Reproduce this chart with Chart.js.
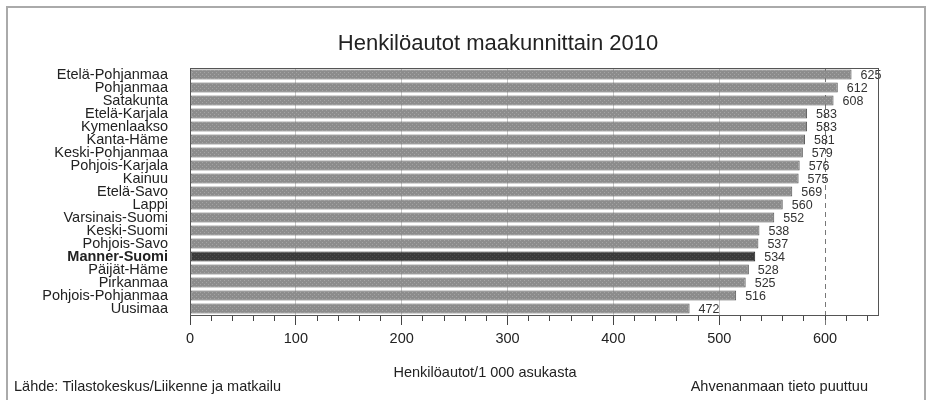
<!DOCTYPE html>
<html>
<head>
<meta charset="utf-8">
<script src="https://cdn.jsdelivr.net/npm/chart.js@4/dist/chart.umd.min.js"></script>
<style>
  html, body { margin: 0; padding: 0; background: #fff; }
  #wrap { width: 929px; height: 400px; }
</style>
</head>
<body>
<div id="wrap"><canvas id="myChart" width="929" height="400"></canvas></div>
<script>
// data
const regions = ['Etelä-Pohjanmaa', 'Pohjanmaa', 'Satakunta', 'Etelä-Karjala', 'Kymenlaakso',
  'Kanta-Häme', 'Keski-Pohjanmaa', 'Pohjois-Karjala', 'Kainuu', 'Etelä-Savo', 'Lappi',
  'Varsinais-Suomi', 'Keski-Suomi', 'Pohjois-Savo', 'Manner-Suomi', 'Päijät-Häme',
  'Pirkanmaa', 'Pohjois-Pohjanmaa', 'Uusimaa'];
const carsPer1000 = [625, 612, 608, 583, 583, 581, 579, 576, 575, 569, 560, 552, 538, 537, 534, 528, 525, 516, 472];
const highlight = 'Manner-Suomi';
const chartTitle = 'Henkilöautot maakunnittain 2010';
const axisTitle = 'Henkilöautot/1 000 asukasta';
const sourceText = 'Lähde: Tilastokeskus/Liikenne ja matkailu';
const noteText = 'Ahvenanmaan tieto puuttuu';
const refLine = 600;

const FONT = 'Arial, "Liberation Sans", sans-serif';

// grainy grey fill like the scanned original
function makePattern(base, speck) {
  let c = document.createElement('canvas');
  c.width = 4; c.height = 4;
  let g = c.getContext('2d');
  g.fillStyle = base;
  g.fillRect(0, 0, 4, 4);
  g.fillStyle = speck;
  g.fillRect(0, 0, 1, 1);
  g.fillRect(2, 2, 1, 1);
  return g.createPattern(c, 'repeat');
}
const greyFill = makePattern('#8c8c8c', '#a4a4a4');
const darkFill = makePattern('#3a3a3a', '#505050');

const extras = {
  id: 'extras',
  beforeDatasetsDraw(chart) {
    const { ctx, chartArea, scales } = chart;
    const x = scales.x.getPixelForValue(refLine);
    ctx.save();
    ctx.strokeStyle = '#777';
    ctx.lineWidth = 1;
    ctx.setLineDash([5, 4]);
    ctx.beginPath();
    ctx.moveTo(Math.round(x) + 0.5, chartArea.top);
    ctx.lineTo(Math.round(x) + 0.5, chartArea.bottom + 10);
    ctx.stroke();
    ctx.restore();
  },
  afterDatasetsDraw(chart) {
    const { ctx } = chart;
    const meta = chart.getDatasetMeta(0);
    ctx.save();
    ctx.font = '12.5px ' + FONT;
    ctx.fillStyle = '#333';
    ctx.textBaseline = 'middle';
    ctx.textAlign = 'left';
    meta.data.forEach((bar, i) => {
      ctx.fillText(carsPer1000[i], bar.x + 9, bar.y + 1);
    });
    ctx.restore();
  },
  afterDraw(chart) {
    const { ctx, chartArea } = chart;
    ctx.save();
    // plot box
    ctx.strokeStyle = '#555';
    ctx.lineWidth = 1;
    ctx.strokeRect(Math.round(chartArea.left) + 0.5, Math.round(chartArea.top) + 0.5,
      Math.round(chartArea.right - chartArea.left), Math.round(chartArea.bottom - chartArea.top));
    // outer frame
    ctx.strokeStyle = '#aaa';
    ctx.lineWidth = 2;
    ctx.strokeRect(7, 7, 918, 410);
    // texts
    ctx.fillStyle = '#222';
    ctx.textBaseline = 'alphabetic';
    ctx.textAlign = 'center';
    ctx.font = '22px ' + FONT;
    ctx.fillText(chartTitle, 498, 50);
    ctx.font = '14.5px ' + FONT;
    ctx.fillText(axisTitle, 485, 377);
    ctx.textAlign = 'left';
    ctx.fillText(sourceText, 14, 391);
    ctx.textAlign = 'right';
    ctx.fillText(noteText, 868, 391);
    ctx.restore();
  }
};

const ctx = document.getElementById('myChart').getContext('2d');
const myChart = new Chart(ctx, {
  type: 'bar',
  data: {
    labels: regions,
    datasets: [{
      data: carsPer1000,
      backgroundColor: regions.map(r => r === highlight ? darkFill : greyFill),
      borderColor: regions.map(r => r === highlight ? '#222' : '#555'),
      borderWidth: 1,
      borderSkipped: false,
      barPercentage: 0.78,
      categoryPercentage: 1
    }]
  },
  plugins: [extras],
  options: {
    indexAxis: 'y',
    responsive: false,
    animation: false,
    layout: { padding: { left: 0, top: 68, right: 51, bottom: 0 } },
    plugins: {
      legend: { display: false },
      title: { display: false },
      tooltip: { enabled: false }
    },
    scales: {
      x: {
        min: 0,
        max: 650,
        afterFit(scale) { scale.height = 85; },
        border: { display: true, color: '#555' },
        grid: {
          color: c => (c.tick && c.tick.value % 100 === 0 && c.tick.value > 0 && c.tick.value < refLine) ? '#c8c8c8' : 'transparent',
          tickColor: '#444',
          tickLength: 10,
          tickBorderDash: c => (c.tick && c.tick.value % 100 === 0) ? [] : [5, 20]
        },
        ticks: {
          stepSize: 20,
          includeBounds: false,
          autoSkip: false,
          maxRotation: 0,
          padding: 5,
          color: '#222',
          font: { family: FONT, size: 14.5 },
          callback: v => v % 100 === 0 ? v : ''
        }
      },
      y: {
        afterFit(scale) { scale.width = 190; },
        border: { display: true, color: '#555' },
        grid: { display: false },
        ticks: {
          autoSkip: false,
          padding: 14,
          color: '#222',
          font: c => ({ family: FONT, size: 14.5, lineHeight: 1, weight: regions[c.index] === highlight ? 'bold' : 'normal' })
        }
      }
    }
  }
});
</script>
</body>
</html>
